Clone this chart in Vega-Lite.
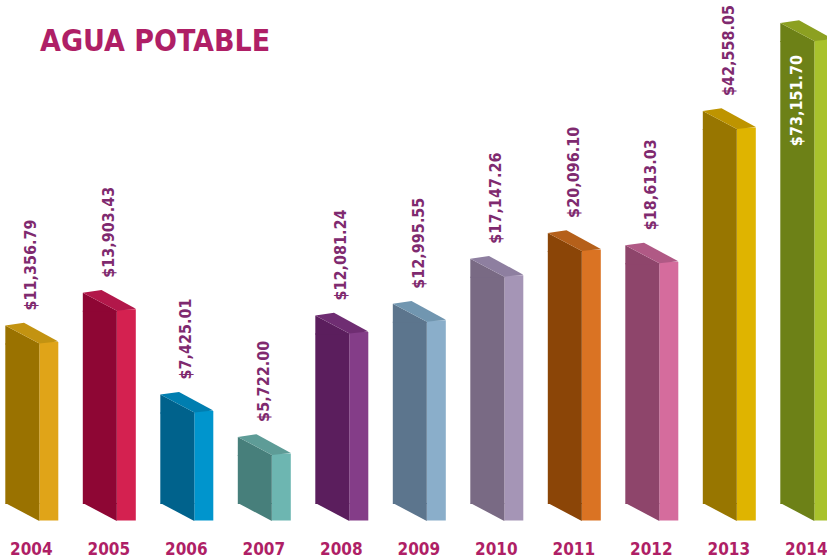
{
  "$schema": "https://vega.github.io/schema/vega-lite/v6.json",
  "width": 827,
  "height": 528,
  "autosize": "none",
  "padding": {"left": 0, "top": 0, "right": 0, "bottom": 30},
  "background": "white",
  "config": {"view": {"stroke": null}},
  "title": {"text": "AGUA POTABLE", "anchor": "start", "frame": "group", "orient": "top", "offset": 0, "dx": 40, "dy": 81, "baseline": "alphabetic", "font": "DejaVu Sans Condensed, Roboto, sans-serif", "fontSize": 30, "fontWeight": "bold", "color": "#AF1F66"},
  "data": {"values": [
    {"year": "2004", "value": 11356.79},
    {"year": "2005", "value": 13903.43},
    {"year": "2006", "value": 7425.01},
    {"year": "2007", "value": 5722.00},
    {"year": "2008", "value": 12081.24},
    {"year": "2009", "value": 12995.55},
    {"year": "2010", "value": 17147.26},
    {"year": "2011", "value": 20096.10},
    {"year": "2012", "value": 18613.03},
    {"year": "2013", "value": 42558.05},
    {"year": "2014", "value": 73151.70}
  ]},
  "encoding": {
    "x": {"field": "year", "type": "nominal", "sort": null,
      "scale": {"range": [-7.45, 845.05], "paddingInner": 0, "paddingOuter": 0},
      "axis": {"title": null, "domain": false, "ticks": false, "grid": false, "labelAngle": 0, "labelFont": "DejaVu Sans Condensed, Roboto, sans-serif", "labelFontSize": 17, "labelFontWeight": "bold", "labelColor": "#AF1F66", "labelPadding": 26, "labelBaseline": "alphabetic"}},
    "y": {"field": "value", "type": "quantitative", "scale": {"type": "log", "domain": [3785, 100000], "range": [504, -27.7], "nice": false}, "axis": null}
  },
  "resolve": {"scale": {"color": "independent"}},
  "layer": [
    {
      "mark": {"type": "bar", "width": 19, "xOffset": 17.5, "yOffset": 16.5, "y2Offset": 16.5},
      "encoding": {
        "y2": {"datum": 3785},
        "color": {"field": "year", "type": "nominal", "legend": null, "scale": {"domain": ["2004","2005","2006","2007","2008","2009","2010","2011","2012","2013","2014"], "range": ["#E0A418","#D42150","#0095CD","#6DB6B1","#843D88","#8AAECA","#A595B6","#DA7323","#D56C9D","#DFB400","#A8C22C"]}}
      }
    },
    {
      "mark": {"type": "bar", "width": 34, "xOffset": -9, "yOffset": 18},
      "encoding": {
        "y2": {"datum": 3785},
        "color": {"field": "year", "type": "nominal", "legend": null, "scale": {"domain": ["2004","2005","2006","2007","2008","2009","2010","2011","2012","2013","2014"], "range": ["#9A7200","#8E0634","#00628C","#477F7B","#5B1E5D","#5C758D","#796A84","#8B4507","#8E456B","#987600","#6D8117"]}}
      }
    },
    {
      "mark": {"type": "point", "shape": "M-2.6,0L0.8,1.8L0.8,1.9L-2.6,1.9Z", "size": 400, "filled": true, "opacity": 1, "strokeWidth": 0},
      "encoding": {
        "color": {"field": "year", "type": "nominal", "legend": null, "scale": {"domain": ["2004","2005","2006","2007","2008","2009","2010","2011","2012","2013","2014"], "range": ["#9A7200","#8E0634","#00628C","#477F7B","#5B1E5D","#5C758D","#796A84","#8B4507","#8E456B","#987600","#6D8117"]}}
      }
    },
    {
      "mark": {"type": "point", "shape": "M-2.6,0L-0.73,-0.27L2.7,1.6L0.8,1.8Z", "size": 400, "filled": true, "opacity": 1, "strokeWidth": 0},
      "encoding": {
        "color": {"field": "year", "type": "nominal", "legend": null, "scale": {"domain": ["2004","2005","2006","2007","2008","2009","2010","2011","2012","2013","2014"], "range": ["#C39311","#B2174A","#007EB0","#5E9C97","#6F2D72","#7196B0","#8E7FA0","#B5601A","#B05985","#BE9400","#8CA021"]}}
      }
    },
    {
      "mark": {"type": "point", "shape": "M-2.6,-0.1L0.8,-0.1L0.8,1.7Z", "size": 400, "filled": true, "opacity": 1, "strokeWidth": 0},
      "encoding": {
        "y": {"datum": 3785, "type": "quantitative"},
        "color": {"field": "year", "type": "nominal", "legend": null, "scale": {"domain": ["2004","2005","2006","2007","2008","2009","2010","2011","2012","2013","2014"], "range": ["#9A7200","#8E0634","#00628C","#477F7B","#5B1E5D","#5C758D","#796A84","#8B4507","#8E456B","#987600","#6D8117"]}}
      }
    },
    {
      "transform": [{"filter": "datum.year != '2014'"}],
      "mark": {"type": "text", "angle": 270, "align": "left", "baseline": "middle", "dx": 15, "font": "DejaVu Sans Condensed, Roboto, sans-serif", "fontSize": 16, "fontWeight": "bold", "color": "#7F2A6F"},
      "encoding": {"text": {"field": "value", "type": "quantitative", "format": "$,.2f"}}
    },
    {
      "transform": [{"filter": "datum.year == '2014'"}],
      "mark": {"type": "text", "angle": 270, "align": "right", "baseline": "middle", "dx": -32, "dy": -9, "font": "DejaVu Sans Condensed, Roboto, sans-serif", "fontSize": 16, "fontWeight": "bold", "color": "#FFFFFF"},
      "encoding": {"text": {"field": "value", "type": "quantitative", "format": "$,.2f"}}
    }
  ]
}
